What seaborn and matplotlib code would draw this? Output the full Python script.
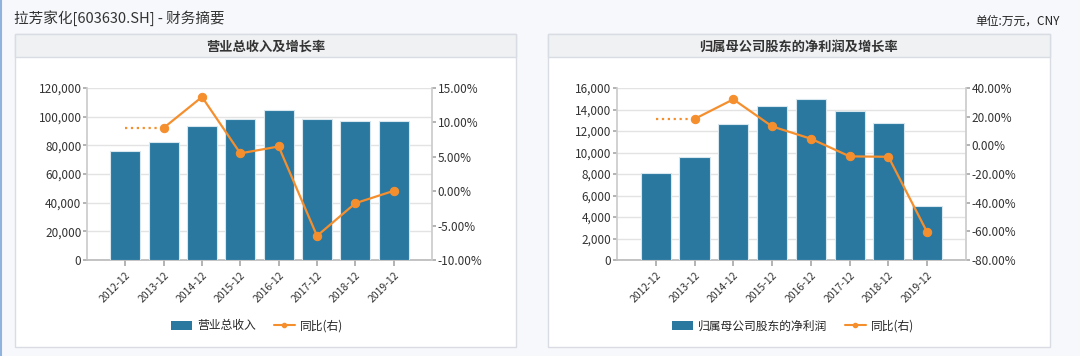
import numpy as np
import pandas as pd
import matplotlib
matplotlib.use('Agg')
import matplotlib.pyplot as plt
import matplotlib.patches as mpatches
from matplotlib.lines import Line2D
from matplotlib.ticker import FuncFormatter
import seaborn as sns

# data
years = ['2012-12', '2013-12', '2014-12', '2015-12', '2016-12', '2017-12', '2018-12', '2019-12']
revenue = [75700, 82600, 93500, 98400, 104900, 98400, 96800, 96800]
revenue_yoy = [np.nan, 9.2, 13.7, 5.5, 6.5, -6.5, -1.75, 0.05]
profit = [8080, 9570, 12650, 14350, 14950, 13830, 12740, 5030]
profit_yoy = [np.nan, 18.4, 32.1, 13.2, 4.6, -7.7, -8.0, -60.7]

BLUE = '#2a78a0'
ORANGE = '#f58f2e'
W, H = 1080, 356

sns.set_theme(style='white')
plt.rcParams['font.family'] = ['Noto Sans CJK SC', 'DejaVu Sans']

fig = plt.figure(figsize=(W / 100, H / 100), dpi=100)
fig.patch.set_facecolor('#f6f8fb')


def px(x, y, w, h):
    # pixel box (top-left origin) -> figure fraction
    return [x / W, 1 - (y + h) / H, w / W, h / H]


def panel(x0, x1, title):
    y0, y1, hh = 34, 347, 23
    fig.patches.append(mpatches.Rectangle((x0 / W, 1 - y1 / H), (x1 - x0) / W, (y1 - y0) / H,
                                          transform=fig.transFigure, facecolor='white',
                                          edgecolor='#d9dde3', lw=1, zorder=-2))
    fig.patches.append(mpatches.Rectangle((x0 / W, 1 - (y0 + hh) / H), (x1 - x0) / W, hh / H,
                                          transform=fig.transFigure, facecolor='#eff1f3',
                                          edgecolor='#d9dde3', lw=1, zorder=-1))
    fig.text((x0 + x1) / 2 / W, 1 - (y0 + hh / 2 + 1) / H, title, ha='center', va='center',
             fontsize=9.5, fontweight='bold', color='#333333')


def chart(ax_box, bars, yoy, ymax, ystep, rmin, rmax, rstep, bar_label, legend_x):
    ax = fig.add_axes(px(*ax_box))
    ax.set_facecolor('none')
    df = pd.DataFrame({'year': years, 'value': bars})
    sns.barplot(data=df, x='year', y='value', color=BLUE, edgecolor='#d8e6ee', linewidth=0.8,
                width=0.78, saturation=1, ax=ax, zorder=3)
    ax.set_xlim(-1, len(years))
    ax.set_ylim(0, ymax)
    ax.set_yticks(np.arange(0, ymax + 1, ystep))
    ax.yaxis.set_major_formatter(FuncFormatter(lambda v, p: f'{int(v):,}'))
    ax.set_xlabel('')
    ax.set_ylabel('')
    ax.grid(axis='y', color='#e3e3e3', lw=1, zorder=0)
    for s in ['top', 'right']:
        ax.spines[s].set_visible(False)
    ax.spines['left'].set_color('#cccccc')
    ax.spines['bottom'].set_color('#bbbbbb')
    ax.tick_params(axis='y', labelsize=8.5, colors='#333333', length=3, pad=1, color='#aaaaaa', left=True)
    ax.tick_params(axis='x', labelsize=7.5, colors='#333333', length=4, color='#aaaaaa', bottom=True)
    plt.setp(ax.get_xticklabels(), rotation=45, ha='right', rotation_mode='anchor')

    ax2 = ax.twinx()
    idx = np.arange(len(years))
    ax2.plot(idx[:2], [yoy[1], yoy[1]], ls=':', color=ORANGE, lw=1.6, zorder=4)
    sns.lineplot(x=idx[1:], y=yoy[1:], color=ORANGE, marker='o', markersize=6,
                 markeredgecolor=ORANGE, lw=1.6, ax=ax2, zorder=5)
    ax2.set_xlim(-1, len(years))
    ax2.set_ylim(rmin, rmax)
    ax2.set_yticks(np.arange(rmin, rmax + 0.1, rstep))
    ax2.yaxis.set_major_formatter(FuncFormatter(lambda v, p: f'{v:.2f}%'))
    for s in ['top', 'left', 'bottom']:
        ax2.spines[s].set_visible(False)
    ax2.spines['right'].set_color('#cccccc')
    ax2.tick_params(axis='y', labelsize=8.5, colors='#333333', length=3, pad=1, color='#aaaaaa', right=True)

    handles = [mpatches.Patch(facecolor=BLUE, edgecolor='none'),
               Line2D([0], [0], color=ORANGE, lw=1.5, marker='o', markersize=3)]
    fig.legend(handles, [bar_label, '同比(右)'], loc='center', bbox_to_anchor=(legend_x / W, 1 - 326 / H),
               ncol=2, frameon=False, fontsize=8.5, handlelength=1.8, handleheight=0.9,
               columnspacing=1.5, handletextpad=0.4)


panel(15, 516, '营业总收入及增长率')
panel(548, 1050, '归属母公司股东的净利润及增长率')

chart((87, 88, 345, 172), revenue, revenue_yoy, 120000, 20000, -10, 15, 5, '营业总收入', 257)
chart((617, 88, 349, 172), profit, profit_yoy, 16000, 2000, -80, 40, 20, '归属母公司股东的净利润', 793)

fig.text(14 / W, 1 - 18 / H, '拉芳家化[603630.SH] - 财务摘要', ha='left', va='center',
         fontsize=10.5, color='#333333')
fig.text(1060 / W, 1 - 21 / H, '单位:万元，CNY', ha='right', va='center', fontsize=8.5, color='#222222')
fig.lines.append(Line2D([0.5 / W, 0.5 / W], [0, 1], transform=fig.transFigure, color='#8fb3dc', lw=1.5))

fig.savefig('out.png', dpi=100, facecolor=fig.get_facecolor())
